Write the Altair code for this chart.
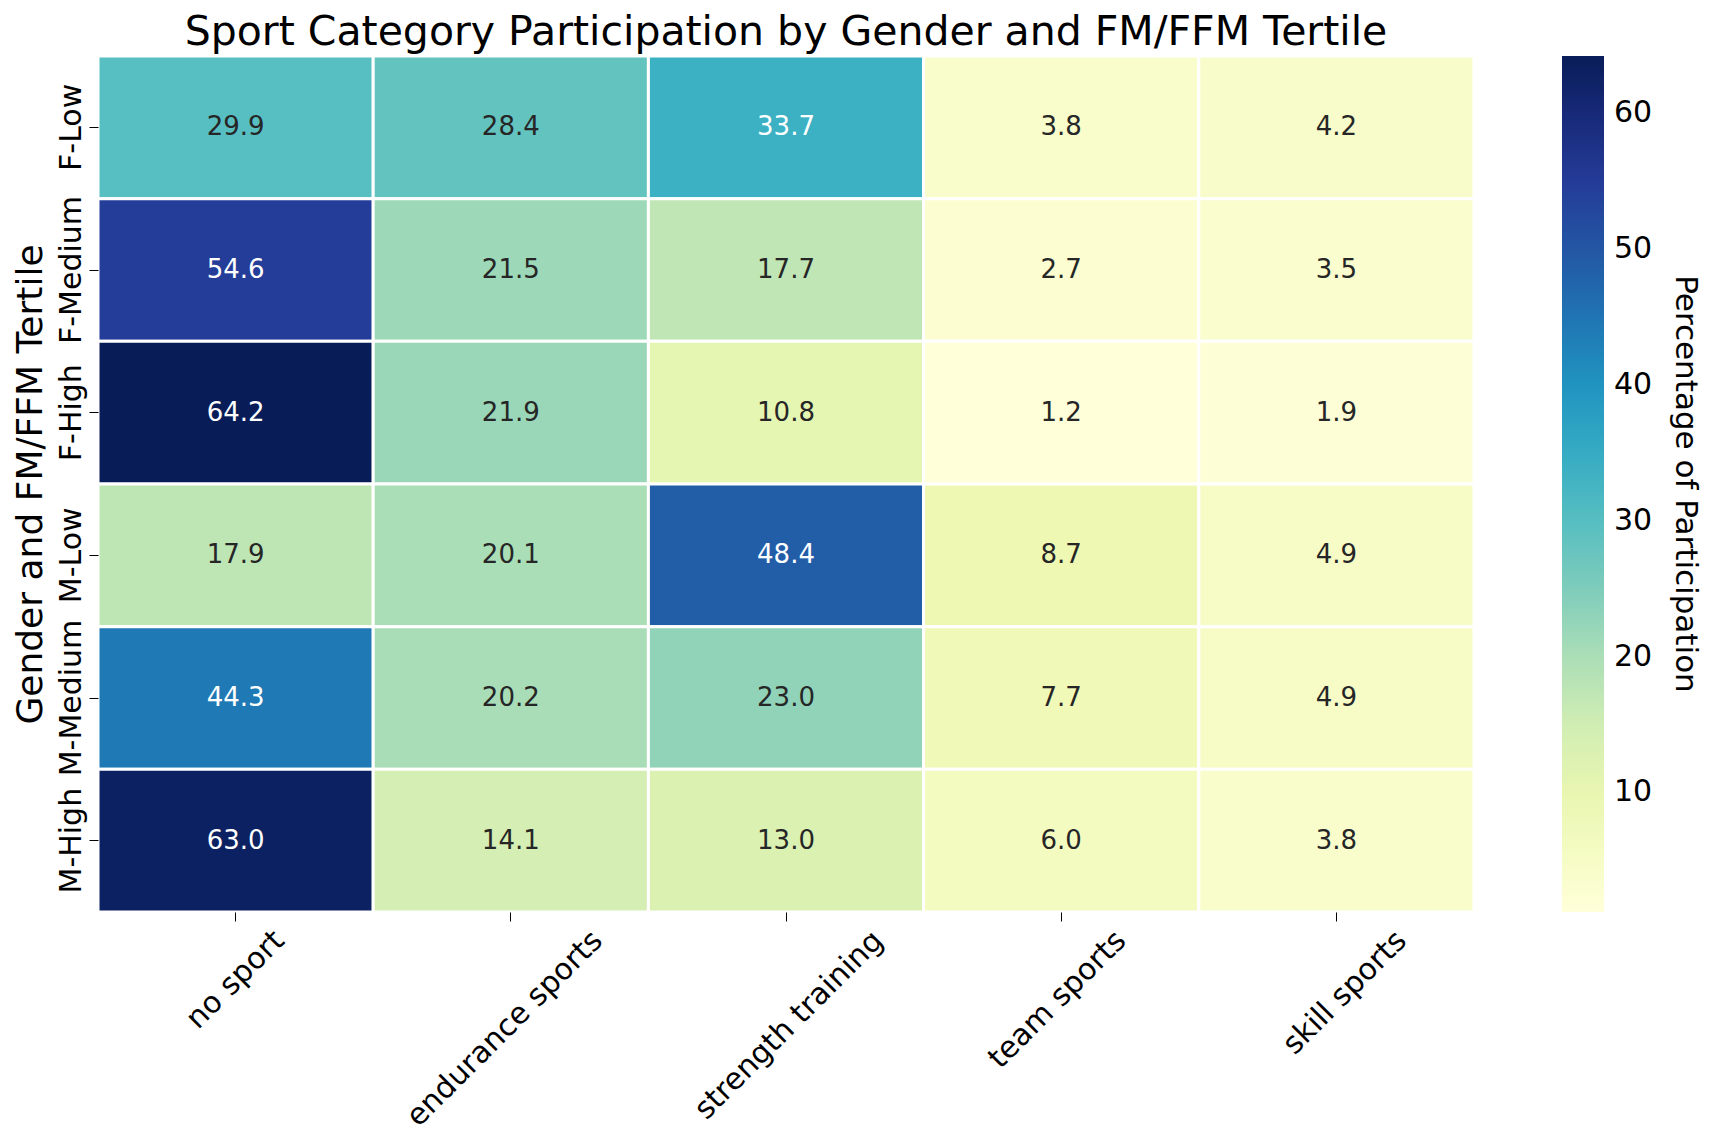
import altair as alt
import pandas as pd

groups = ["F-Low", "F-Medium", "F-High", "M-Low", "M-Medium", "M-High"]
sports = ["no sport", "endurance sports", "strength training", "team sports", "skill sports"]

no_sport = [29.9, 54.6, 64.2, 17.9, 44.3, 63.0]
endurance = [28.4, 21.5, 21.9, 20.1, 20.2, 14.1]
strength = [33.7, 17.7, 10.8, 48.4, 23.0, 13.0]
team = [3.8, 2.7, 1.2, 8.7, 7.7, 6.0]
skill = [4.2, 3.5, 1.9, 4.9, 4.9, 3.8]

colorbar_ticks = [10, 20, 30, 40, 50, 60]

# matplotlib "YlGnBu" colormap stops
ylgnbu = ["#ffffd9", "#edf8b1", "#c7e9b4", "#7fcdbb", "#41b6c4",
          "#1d91c0", "#225ea8", "#253494", "#081d58"]

series = [no_sport, endurance, strength, team, skill]
rows = []
for sport, vals in zip(sports, series):
    for g, v in zip(groups, vals):
        rows.append({"group": g, "sport": sport, "value": v})
df = pd.DataFrame(rows)
vmin = float(df["value"].min())
vmax = float(df["value"].max())
n = len(ylgnbu) - 1
color_domain = [vmin + i * (vmax - vmin) / n for i in range(n + 1)]

FONT = "DejaVu Sans"

base = alt.Chart(df).encode(
    x=alt.X(
        "sport:N",
        sort=sports,
        scale=alt.Scale(paddingInner=0, paddingOuter=0),
        axis=alt.Axis(
            title=None,
            labelAngle=315,
            labelAlign="right",
            labelBaseline="top",
            labelOffset={"expr": "length(datum.label) * 5.4 - 10"},
            labelFontSize=30,
            labelLimit=0,
            labelPadding=4,
            tickSize=9,
            tickColor="black",
            labelColor="black",
            domain=False,
            grid=False,
        ),
    ),
    y=alt.Y(
        "group:N",
        sort=groups,
        scale=alt.Scale(paddingInner=0, paddingOuter=0),
        axis=alt.Axis(
            title="Gender and FM/FFM Tertile",
            titleFontSize=36,
            titleFontWeight="normal",
            titleColor="black",
            titlePadding=7,
            labelAngle=270,
            labelAlign="center",
            labelBaseline="bottom",
            labelFontSize=30,
            labelLimit=0,
            labelPadding=3,
            labelColor="black",
            tickSize=9,
            tickColor="black",
            domain=False,
            grid=False,
        ),
    ),
)

rect = base.mark_rect(stroke="white", strokeWidth=3).encode(
    color=alt.Color(
        "value:Q",
        scale=alt.Scale(domain=color_domain, range=ylgnbu, interpolate="rgb", nice=False, zero=False),
        legend=alt.Legend(
            title="Percentage of Participation",
            orient="right",
            offset=88,
            direction="vertical",
            gradientLength=856,
            gradientThickness=42,
            gradientStrokeWidth=0,
            values=colorbar_ticks,
            labelFontSize=30,
            labelColor="black",
            labelOffset=10,
            titleOrient="right",
            titleFontSize=31,
            titleFontWeight="normal",
            titleColor="black",
            titleAnchor="middle",
            titleLimit=0,
            titlePadding=17,
        ),
    )
)

text = base.mark_text(fontSize=26, font=FONT).encode(
    text=alt.Text("value:Q", format=".1f"),
    color=alt.condition("datum.value > 31", alt.value("white"), alt.value("#262626")),
)

chart = (
    alt.layer(rect, text)
    .properties(
        width=1376,
        height=856,
        padding={"left": 4, "top": 3, "right": 4, "bottom": 0},
        title=alt.Title(
            "Sport Category Participation by Gender and FM/FFM Tertile",
            fontSize=41,
            fontWeight="normal",
            color="black",
            anchor="middle",
            offset=1,
        ),
    )
    .configure(font=FONT)
    .configure_view(stroke=None)
)

chart.save("out.html", embed_options={"renderer": "svg", "actions": False})
